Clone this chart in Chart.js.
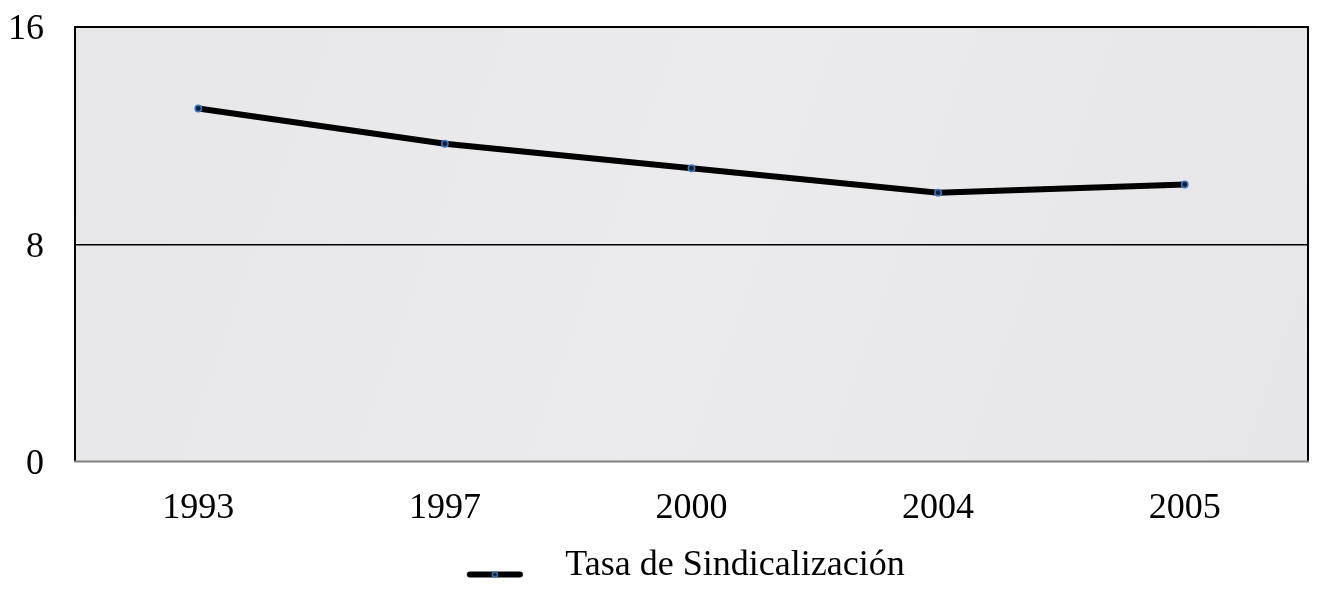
<!DOCTYPE html>
<html>
<head>
<meta charset="utf-8">
<script src="https://cdn.jsdelivr.net/npm/chart.js@4"></script>
<style>
  html, body { margin: 0; padding: 0; background: #ffffff; }
  #wrap { width: 1320px; height: 595px; position: relative; }
</style>
</head>
<body>
<div id="wrap"><canvas id="c" width="1320" height="595"></canvas></div>
<script>
const categories = ['1993', '1997', '2000', '2004', '2005'];
const seriesName = 'Tasa de Sindicalización';
const seriesValues = [13.0, 11.7, 10.8, 9.9, 10.2];
const yTicks = [0, 8, 16];

const FONT = "'Liberation Serif', 'Times New Roman', serif";

// legend symbol: thick black line with small blue marker (sits a bit below the text middle)
const sym = document.createElement('canvas');
sym.width = 100; sym.height = 34;
(function () {
  const g = sym.getContext('2d');
  const ly = 25.5;
  g.strokeStyle = '#000';
  g.lineWidth = 6;
  g.lineCap = 'round';
  g.beginPath(); g.moveTo(7, ly); g.lineTo(57, ly); g.stroke();
  g.fillStyle = '#10203a';
  g.strokeStyle = '#3f78c0'; g.lineWidth = 1.4;
  g.beginPath(); g.arc(32, ly, 2.6, 0, Math.PI * 2); g.fill(); g.stroke();
})();

const bgPlugin = {
  id: 'bgFrame',
  beforeDraw(chart) {
    const { ctx, chartArea: a } = chart;
    ctx.save();
    const grd = ctx.createLinearGradient(a.left, a.top, a.right, a.bottom);
    grd.addColorStop(0, '#e7e7e9');
    grd.addColorStop(0.5, '#ebebed');
    grd.addColorStop(1, '#e6e6e8');
    ctx.fillStyle = grd;
    ctx.fillRect(a.left, a.top, a.right - a.left, a.bottom - a.top);
    ctx.restore();
  },
  afterDraw(chart) {
    const { ctx, chartArea: a } = chart;
    ctx.save();
    ctx.lineWidth = 2;
    ctx.strokeStyle = '#000';
    ctx.beginPath();
    ctx.moveTo(a.left, a.bottom);
    ctx.lineTo(a.left, a.top);
    ctx.lineTo(a.right, a.top);
    ctx.lineTo(a.right, a.bottom);
    ctx.stroke();
    ctx.strokeStyle = '#808080';
    ctx.beginPath();
    ctx.moveTo(a.left - 1, a.bottom);
    ctx.lineTo(a.right + 1, a.bottom);
    ctx.stroke();
    ctx.restore();
  }
};

new Chart(document.getElementById('c'), {
  type: 'line',
  data: {
    labels: categories,
    datasets: [{
      label: seriesName,
      data: seriesValues,
      borderColor: '#000000',
      borderWidth: 6,
      tension: 0,
      pointRadius: 3.2,
      pointBorderWidth: 1.5,
      pointBorderColor: '#3f78c0',
      pointBackgroundColor: '#10203a',
      pointHoverRadius: 3.2
    }]
  },
  options: {
    responsive: false,
    animation: false,
    events: [],
    layout: { padding: { top: 27, right: 12, bottom: 1, left: 0 } },
    scales: {
      x: {
        offset: true,
        grid: { display: false },
        border: { display: false },
        ticks: { color: '#000', font: { family: FONT, size: 36 }, padding: 17, maxRotation: 0 },
        afterFit(s) { s.height = 84; }
      },
      y: {
        min: 0, max: 16,
        afterBuildTicks(s) { s.ticks = yTicks.map(v => ({ value: v })); },
        grid: {
          drawTicks: false,
          lineWidth: 1.5,
          color: (c) => (c.tick && c.tick.value === 8) ? '#000' : 'rgba(0,0,0,0)'
        },
        border: { display: false },
        ticks: { color: '#000', font: { family: FONT, size: 36 }, padding: 31, labelOffset: 3 },
        afterFit(s) { s.width = 75; s.paddingTop = 0; s.paddingBottom = 0; }
      }
    },
    plugins: {
      tooltip: { enabled: false },
      legend: {
        position: 'bottom',
        fullSize: false,
        labels: {
          color: '#000',
          font: { family: FONT, size: 36 },
          usePointStyle: true,
          pointStyleWidth: 69,
          padding: 2.5,
          generateLabels(chart) {
            const items = Chart.defaults.plugins.legend.labels.generateLabels(chart);
            items.forEach(it => { it.pointStyle = sym; });
            return items;
          }
        }
      }
    }
  },
  plugins: [bgPlugin]
});
</script>
</body>
</html>
